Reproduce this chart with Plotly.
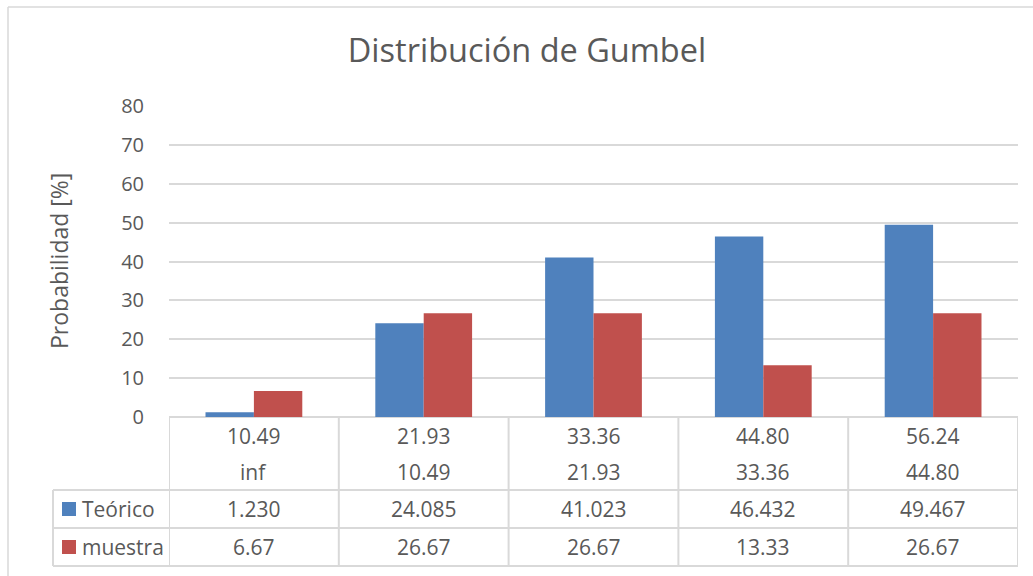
import plotly.graph_objects as go

# ---- data ----
upper_bounds = ["10.49", "21.93", "33.36", "44.80", "56.24"]
lower_bounds = ["inf", "10.49", "21.93", "33.36", "44.80"]
teorico = [1.230, 24.085, 41.023, 46.432, 49.467]
muestra = [6.67, 26.67, 26.67, 13.33, 26.67]
series_names = ["Teórico", "muestra"]
series_colors = ["#4F81BD", "#C0504D"]
title_text = "Distribución de Gumbel"
ytitle_text = "Probabilidad [%]"

W, H = 1033, 576
FONT = "Open Sans"
TXT = "#595959"
GRID = "#D9D9D9"


def px(x):
    return x / W


def py(y):
    return 1 - y / H


cats = list(range(len(upper_bounds)))

fig = go.Figure()
for name, vals, col in zip(series_names, [teorico, muestra], series_colors):
    fig.add_trace(go.Bar(x=cats, y=vals, name=name, marker=dict(color=col, line=dict(width=0))))

shapes = []
annotations = []

# table vertical lines at category boundaries
for i in range(len(cats) + 1):
    shapes.append(dict(type="line", xref="x", yref="paper", x0=i - 0.5, x1=i - 0.5,
                       y0=py(417), y1=py(566), line=dict(color=GRID, width=2)))
# left edge of legend column
shapes.append(dict(type="line", xref="paper", yref="paper", x0=px(53), x1=px(53),
                   y0=py(490), y1=py(566), line=dict(color=GRID, width=2)))
# horizontal lines
for yy in [490, 528, 566]:
    shapes.append(dict(type="line", xref="paper", yref="paper", x0=px(53), x1=px(1018),
                       y0=py(yy), y1=py(yy), line=dict(color=GRID, width=2)))
# outer chart border (top and left edges; right/bottom fall outside the view)
shapes.append(dict(type="line", xref="paper", yref="paper", x0=px(8), x1=1,
                   y0=py(7), y1=py(7), line=dict(color=GRID, width=1.5)))
shapes.append(dict(type="line", xref="paper", yref="paper", x0=px(8), x1=px(8),
                   y0=py(7), y1=0, line=dict(color=GRID, width=1.5)))

# table cells
row_y = [436, 472, 509, 547]
rows = [upper_bounds, lower_bounds,
        ["%.3f" % v for v in teorico], ["%.2f" % v for v in muestra]]
for ry, row in zip(row_y, rows):
    for c, txt in zip(cats, row):
        annotations.append(dict(x=c, y=py(ry), xref="x", yref="paper", text=txt,
                                showarrow=False, xanchor="center", yanchor="middle",
                                font=dict(family=FONT, size=21, color=TXT)))

# legend keys and labels in the table
for ry, name, col in zip(row_y[2:], series_names, series_colors):
    shapes.append(dict(type="rect", xref="paper", yref="paper", x0=px(62), x1=px(76),
                       y0=py(ry + 7), y1=py(ry - 7), fillcolor=col, line=dict(width=0)))
    annotations.append(dict(x=px(80), y=py(ry), xref="paper", yref="paper", text=name,
                            showarrow=False, xanchor="left", yanchor="middle",
                            font=dict(family=FONT, size=21, color=TXT)))

# y axis title
annotations.append(dict(x=px(59), y=py(261), xref="paper", yref="paper", text=ytitle_text,
                        textangle=-90, showarrow=False, xanchor="center", yanchor="middle",
                        font=dict(family=FONT, size=23, color=TXT)))

fig.update_layout(
    width=W, height=H,
    margin=dict(l=0, r=0, t=0, b=0, pad=0, autoexpand=False),
    paper_bgcolor="white", plot_bgcolor="white",
    barmode="group", bargap=0.43, bargroupgap=0,
    showlegend=False,
    title=dict(text=title_text, x=px(527), y=py(51), xanchor="center", yanchor="middle",
               font=dict(family=FONT, size=32.5, color=TXT)),
    xaxis=dict(domain=[px(169), px(1018)], range=[-0.5, len(cats) - 0.5],
               showticklabels=False, showgrid=False, zeroline=False, ticks="",
               showline=False, fixedrange=True, automargin=False),
    yaxis=dict(domain=[py(417), py(106)], range=[0, 80], dtick=10,
               showgrid=True, gridcolor=GRID, gridwidth=1.5,
               zeroline=True, zerolinecolor=GRID, zerolinewidth=2,
               ticks="outside", ticklen=20, tickcolor="rgba(0,0,0,0)",
               tickfont=dict(family=FONT, size=20, color=TXT), showline=False,
               automargin=False, fixedrange=True),
    shapes=shapes,
    annotations=annotations,
)

fig.write_html("out.html", config={"displayModeBar": False},
               post_script="document.body.style.margin='0px';")
